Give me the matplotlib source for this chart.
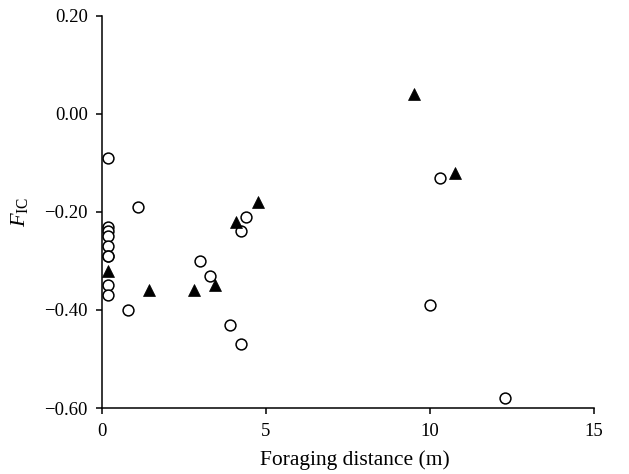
import matplotlib
matplotlib.use("Agg")
import matplotlib.pyplot as plt
from matplotlib.ticker import FuncFormatter

# Open circles
circle_x = [0.2, 0.2, 0.2, 0.2, 0.2, 0.2, 0.2, 0.2, 0.2, 1.1, 0.8,
            3.0, 3.3, 3.9, 4.25, 4.25, 4.4, 10.0, 10.3, 12.3]
circle_y = [-0.09, -0.23, -0.24, -0.25, -0.27, -0.29, -0.29, -0.35, -0.37, -0.19, -0.40,
            -0.30, -0.33, -0.43, -0.24, -0.47, -0.21, -0.39, -0.13, -0.58]

# Filled triangles
tri_x = [0.2, 1.45, 2.8, 3.45, 4.1, 4.75, 9.5, 10.75]
tri_y = [-0.32, -0.36, -0.36, -0.35, -0.22, -0.18, 0.04, -0.12]

x_ticks = [0, 5, 10, 15]
y_ticks = [-0.60, -0.40, -0.20, 0.00, 0.20]

plt.rcParams['font.family'] = ['Liberation Serif', 'DejaVu Serif']
plt.rcParams['mathtext.fontset'] = 'custom'
plt.rcParams['mathtext.rm'] = 'Liberation Serif'
plt.rcParams['mathtext.it'] = 'Liberation Serif:italic'

fig = plt.figure(figsize=(6.29, 4.74), dpi=100)
ax = fig.add_axes([0.1617, 0.1392, 0.7827, 0.8277])

ax.plot(circle_x, circle_y, linestyle='none', marker='o', markersize=7.8,
        markerfacecolor='white', markeredgecolor='black', markeredgewidth=1.1, zorder=3)
ax.plot(tri_x, tri_y, linestyle='none', marker='^', markersize=8.8,
        markerfacecolor='black', markeredgecolor='black', markeredgewidth=0.5, zorder=4)

ax.set_xlim(0, 15)
ax.set_ylim(-0.60, 0.20)
ax.set_xticks(x_ticks)
ax.set_yticks(y_ticks)
ax.yaxis.set_major_formatter(FuncFormatter(lambda v, p: f"{v:.2f}".replace('-', '\u2212') if abs(v) > 1e-9 else "0.00"))

for s in ['top', 'right']:
    ax.spines[s].set_visible(False)
for s in ['left', 'bottom']:
    ax.spines[s].set_linewidth(1.1)

ax.tick_params(axis='both', direction='out', length=4, width=1.1, labelsize=13.5)
ax.tick_params(axis='y', pad=6)
ax.tick_params(axis='x', pad=7)

ax.set_xlabel('Foraging distance (m)', fontsize=15.5)
ax.xaxis.set_label_coords(0.515, -0.108)
ax.set_ylabel(r'$F_{\mathrm{IC}}$', fontsize=16, labelpad=10)

fig.savefig('out.png', dpi=100)
